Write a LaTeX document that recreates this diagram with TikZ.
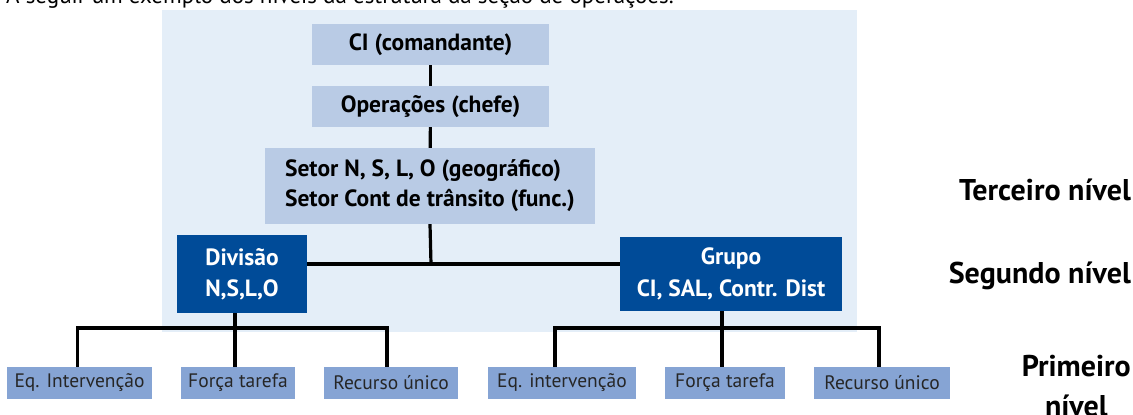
\documentclass[tikz,border=0pt]{standalone}
\usepackage{fontspec}
\setmainfont{PT Sans}
\definecolor{bglight}{HTML}{E4EEF8}
\definecolor{boxlight}{HTML}{B9CBE5}
\definecolor{boxdark}{HTML}{004B98}
\definecolor{boxmid}{HTML}{86A4D4}
\begin{document}
\begin{tikzpicture}[x=1pt,y=-1pt,
  lightbox/.style={fill=boxlight,inner sep=0,font=\bfseries\fontsize{23.5}{30}\selectfont,text=black},
  darkbox/.style={fill=boxdark,inner sep=0,align=center,font=\bfseries\fontsize{23.5}{31.5}\selectfont,text=white},
  leafbox/.style={fill=boxmid,inner sep=0,minimum height=32pt,font=\fontsize{19.5}{21}\selectfont,text=black!85},
  levellabel/.style={anchor=east,inner sep=0,font=\bfseries\fontsize{30}{40}\selectfont,align=center},
  conn/.style={line width=3.2pt}]
\useasboundingbox (0,0) rectangle (1133,415);
\fill[bglight] (162,10) rectangle (857,332);
\node[anchor=base west,inner sep=0,font=\fontsize{23}{26}\selectfont] (title) at (6,3) {A seguir um exemplo dos níveis da estrutura da seção de operações.};
\node[lightbox,minimum width=237pt,minimum height=41pt] (ci) at (430.5,44.5) {CI (comandante)};
\node[lightbox,minimum width=237pt,minimum height=41pt] (ops) at (430.5,106.5) {Operações (chefe)};
\node[lightbox,minimum width=330pt,minimum height=76pt,align=left] (setor) at (430,186) {Setor N, S, L, O (geográfico)\\Setor Cont de trânsito (func.)};
\node[darkbox,minimum width=130pt,minimum height=78pt] (div) at (242,274) {Divisão\\N,S,L,O};
\node[darkbox,minimum width=222pt,minimum height=74pt] (grp) at (731,274) {Grupo\\CI, SAL, Contr. Dist};
\node[leafbox,minimum width=145pt] (l1) at (79.5,383) {Eq. Intervenção};
\node[leafbox,minimum width=114pt] (l2) at (238,383) {Força tarefa};
\node[leafbox,minimum width=134pt] (l3) at (391,383) {Recurso único};
\node[leafbox,minimum width=148pt] (r1) at (562,383) {Eq. intervenção};
\node[leafbox,minimum width=120pt] (r2) at (725,383) {Força tarefa};
\node[leafbox,minimum width=136pt] (r3) at (882,383) {Recurso único};
\node[levellabel] (n3) at (1131,190) {Terceiro nível};
\node[levellabel] (n2) at (1131,276) {Segundo nível};
\node[levellabel] (n1) at (1131,386) {Primeiro\\nível};
\coordinate (hub) at (431,264);
\coordinate (lbar) at (0,328);
\draw[conn] (ci) -- (ops);
\draw[conn] (ops) -- (setor);
\draw[conn] (setor.south) -- (hub);
\draw[conn] (div.east |- hub) -- (grp.west |- hub);
\draw[conn] ([xshift=-7pt]div.south) -- ([xshift=-7pt]div.south |- lbar);
\draw[conn] ([xshift=-9pt]grp.south) -- ([xshift=-9pt]grp.south |- lbar);
\draw[conn,line join=miter] ([xshift=-2pt]l1.north) -- ([xshift=-2pt]l1.north |- lbar) -- ([xshift=-4pt]l3.north |- lbar) -- ([xshift=-4pt]l3.north);
\draw[conn] ([xshift=-3pt]l2.north) -- ([xshift=-3pt]l2.north |- lbar);
\draw[conn,line join=miter] ([xshift=-7pt]r1.north) -- ([xshift=-7pt]r1.north |- lbar) -- ([xshift=-3pt]r3.north |- lbar) -- ([xshift=-3pt]r3.north);
\draw[conn] ([xshift=-3pt]r2.north) -- ([xshift=-3pt]r2.north |- lbar);
\end{tikzpicture}
\end{document}
